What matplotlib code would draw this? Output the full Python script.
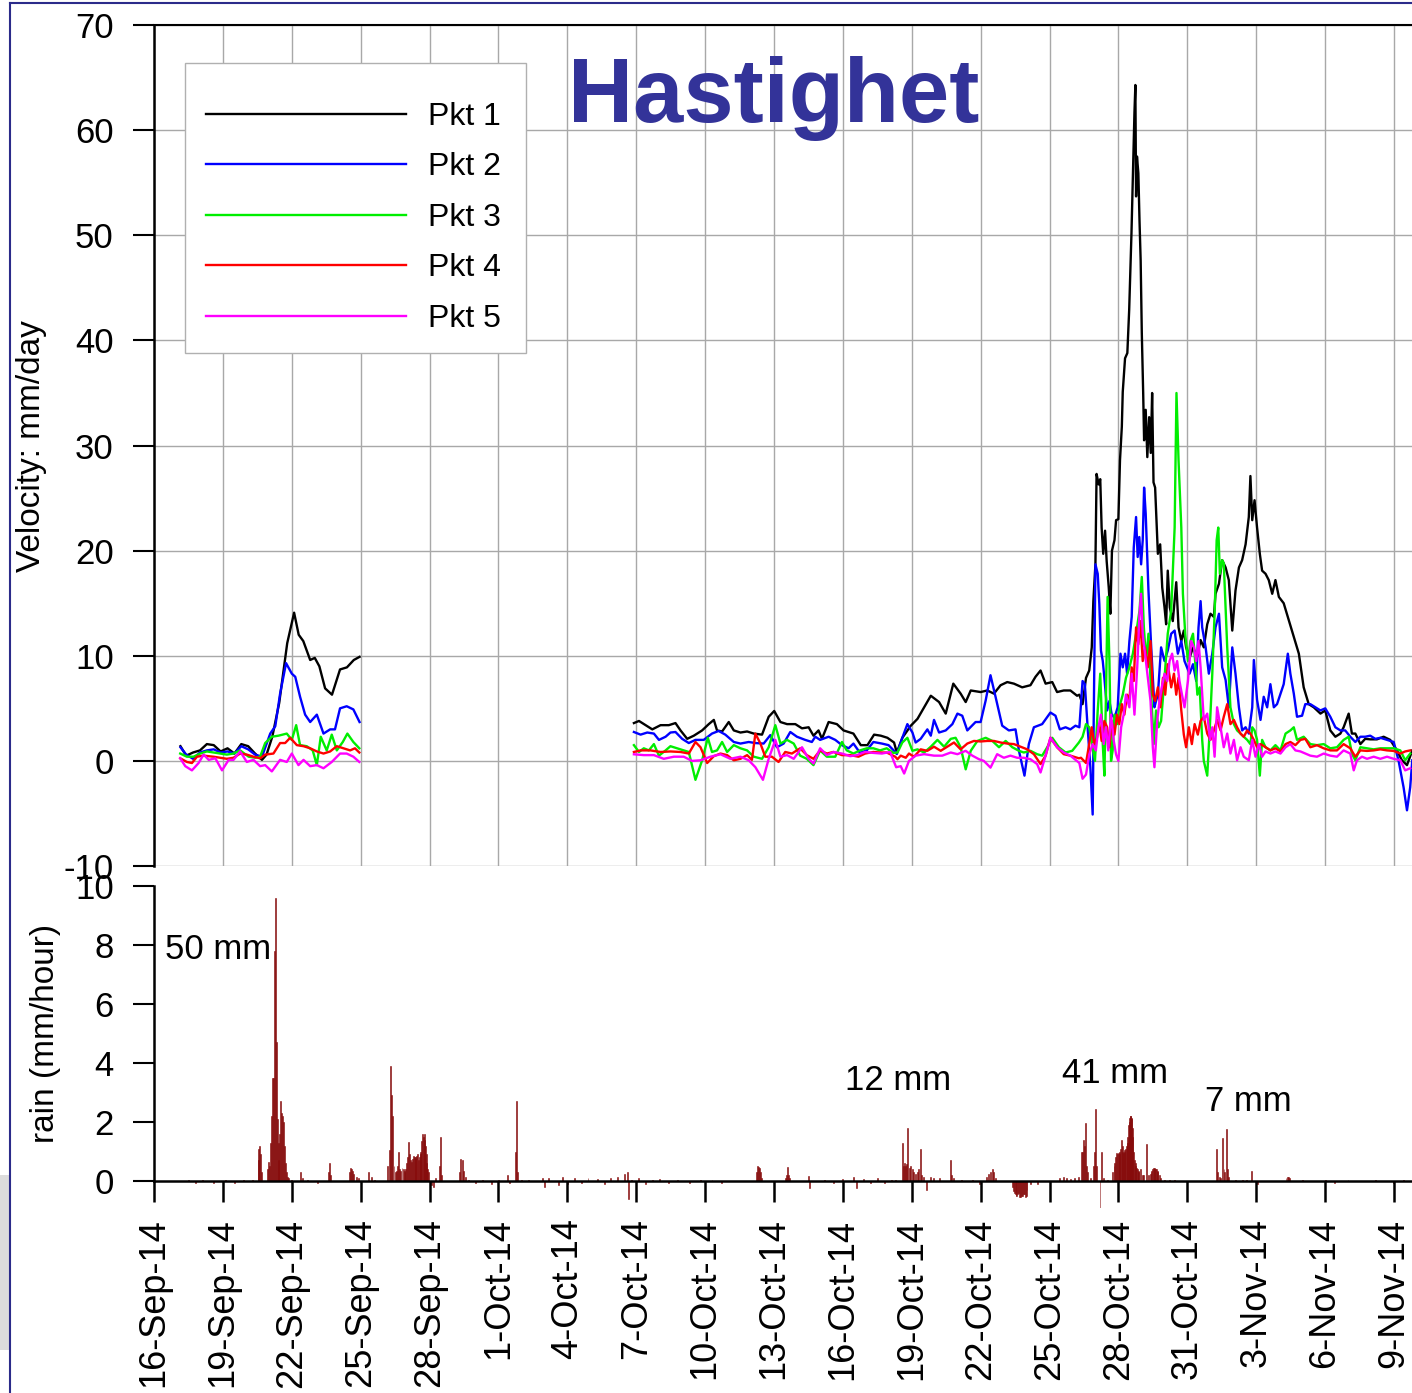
import datetime as dt
import numpy as np
import matplotlib
matplotlib.use('Agg')
import matplotlib.pyplot as plt
from matplotlib.lines import Line2D
from matplotlib.patches import Rectangle
from matplotlib.ticker import FuncFormatter

plt.rcParams['font.family'] = ['Liberation Sans', 'DejaVu Sans']
plt.rcParams['axes.unicode_minus'] = False

# x values are days since 16-Sep-14
start = dt.date(2014, 9, 16)
tick_days = np.arange(0, 55, 3)

series_names = ['Pkt 1', 'Pkt 2', 'Pkt 3', 'Pkt 4', 'Pkt 5']
series_colors = ['black', '#0000ff', '#00ee00', '#ff0000', '#ff00ff']

# --- velocity, first measuring period (17-25 Sep) ---
p1_a = [(1.15, 1.4), (1.4, 0.5), (1.7, 0.8), (2.0, 1.0), (2.3, 1.6), (2.6, 1.5), (2.9, 0.9), (3.2, 1.2),
        (3.5, 0.7), (3.8, 1.6), (4.1, 1.4), (4.4, 0.7), (4.7, 0.1), (4.9, 0.6), (5.15, 2.3), (5.45, 5.5),
        (5.8, 11.2), (6.1, 14.1), (6.3, 12.0), (6.5, 11.4), (6.8, 9.6), (7.0, 9.8), (7.2, 9.0), (7.45, 6.9),
        (7.75, 6.3), (8.1, 8.7), (8.4, 8.9), (8.7, 9.6), (8.95, 9.9)]
p2_a = [(1.15, 1.3), (1.4, 0.6), (1.7, 0.2), (2.0, 0.8), (2.3, 1.0), (2.6, 1.1), (2.9, 0.8), (3.2, 0.9),
        (3.5, 0.7), (3.8, 1.4), (4.1, 1.1), (4.4, 0.6), (4.7, 0.4), (5.06, 2.6), (5.28, 3.3), (5.49, 6.4),
        (5.75, 9.3), (6.0, 8.3), (6.15, 8.0), (6.36, 6.1), (6.58, 4.4), (6.8, 3.7), (7.09, 4.4), (7.38, 2.6),
        (7.67, 3.0), (7.88, 3.0), (8.1, 5.0), (8.39, 5.2), (8.68, 4.9), (8.95, 3.7)]
p3_a = [(1.14, 0.7), (1.43, 0.4), (1.72, 0.4), (2.01, 0.7), (2.3, 0.9), (2.59, 0.8), (2.88, 0.7), (3.17, 0.6),
        (3.46, 0.7), (3.75, 1.0), (4.12, 0.4), (4.41, 0.3), (4.62, 0.4), (4.84, 1.7), (5.13, 2.3), (5.42, 2.4),
        (5.78, 2.6), (6.0, 2.0), (6.19, 3.4), (6.36, 1.5), (6.65, 1.4), (6.91, 1.0), (7.09, -0.4), (7.26, 2.3),
        (7.52, 1.0), (7.74, 2.5), (7.96, 1.0), (8.22, 1.8), (8.42, 2.6), (8.68, 1.8), (8.94, 1.2)]
p4_a = [(1.14, 0.25), (1.43, -0.1), (1.65, -0.2), (1.87, 0.4), (2.16, 0.5), (2.59, 0.4), (2.88, 0.3), (3.17, 0.2),
        (3.46, 0.3), (3.75, 0.7), (4.04, 0.6), (4.33, 0.4), (4.62, 0.25), (4.84, 0.6), (5.2, 0.7), (5.49, 1.7),
        (5.71, 1.7), (5.93, 2.2), (6.22, 1.5), (6.51, 1.4), (6.8, 1.2), (7.09, 0.9), (7.38, 0.7), (7.67, 0.9),
        (7.96, 1.4), (8.25, 1.2), (8.54, 1.0), (8.75, 1.2), (8.94, 0.8)]
p5_a = [(1.14, 0.25), (1.36, -0.5), (1.65, -0.9), (1.94, -0.2), (2.16, 0.6), (2.38, 0.1), (2.67, 0.25), (2.96, -0.9),
        (3.25, 0.1), (3.46, 0.1), (3.75, 0.9), (4.04, -0.1), (4.33, 0.1), (4.62, -0.5), (4.84, -0.4), (5.13, -1.0),
        (5.49, 0.1), (5.78, -0.1), (6.0, 0.7), (6.29, -0.4), (6.51, 0.1), (6.8, -0.5), (7.09, -0.4), (7.38, -0.7),
        (7.74, -0.1), (8.1, 0.7), (8.39, 0.7), (8.68, 0.4), (8.94, -0.1)]

# --- velocity, second measuring period (7 Oct - 10 Nov) ---
p1_b = [(20.9, 3.6), (21.12, 3.8), (21.41, 3.4), (21.7, 3.0), (22.06, 3.4), (22.42, 3.4), (22.71, 3.6), (22.93, 2.9),
        (23.22, 2.1), (23.51, 2.4), (23.87, 2.9), (24.16, 3.5), (24.38, 3.9), (24.52, 2.9), (24.74, 2.8), (25.03, 3.7),
        (25.25, 2.9), (25.54, 2.7), (25.83, 2.8), (26.12, 2.6), (26.48, 2.5), (26.77, 4.2), (27.01, 4.75), (27.28, 3.7),
        (27.57, 3.5), (27.93, 3.5), (28.22, 3.1), (28.51, 3.2), (28.72, 2.4), (28.94, 2.9), (29.09, 2.1), (29.38, 3.7),
        (29.74, 3.5), (30.03, 2.9), (30.46, 2.6), (30.78, 1.5), (31.07, 1.5), (31.36, 2.5), (31.65, 2.4), (31.94, 2.2),
        (32.23, 1.75), (32.35, 0.8), (32.59, 2.2), (32.96, 3.35), (33.25, 4.0), (33.54, 5.1), (33.83, 6.2), (34.19, 5.6),
        (34.48, 4.5), (34.81, 7.35), (35.13, 6.4), (35.35, 5.6), (35.57, 6.7), (36.0, 6.55), (36.29, 6.7), (36.58, 6.4),
        (36.87, 7.2), (37.16, 7.5), (37.45, 7.35), (37.81, 7.0), (38.17, 7.2), (38.39, 8.0), (38.61, 8.6), (38.83, 7.35),
        (39.12, 7.5), (39.33, 6.55), (39.62, 6.7), (39.91, 6.7), (40.2, 6.2), (40.3, 6.3), (40.44, 5.4), (40.59, 7.9),
        (40.73, 8.6), (40.84, 10.8), (40.91, 15.2), (41.0, 18.7), (41.05, 27.3), (41.14, 26.3), (41.21, 26.8),
        (41.27, 22.2), (41.34, 19.7), (41.42, 21.9), (41.49, 19.0), (41.58, 16.5), (41.65, 14.0), (41.72, 20.0),
        (41.83, 21.0), (41.9, 22.9), (42.0, 23.0), (42.07, 28.6), (42.15, 31.8), (42.19, 35.1), (42.29, 38.3),
        (42.39, 38.8), (42.47, 42.9), (42.57, 50.2), (42.65, 57.1), (42.7, 61.7), (42.74, 64.3), (42.77, 53.7),
        (42.81, 57.5), (42.87, 55.9), (42.92, 51.4), (42.97, 47.6), (43.02, 40.7), (43.08, 35.0), (43.12, 30.5),
        (43.19, 33.4), (43.26, 28.9), (43.34, 32.7), (43.41, 29.3), (43.47, 35.0), (43.53, 26.5), (43.6, 26.0),
        (43.72, 19.7), (43.82, 20.6), (43.91, 16.5), (44.01, 14.6), (44.08, 13.0), (44.15, 18.1), (44.24, 14.6),
        (44.37, 13.3), (44.52, 17.0), (44.62, 12.7), (44.74, 11.4), (44.85, 12.4), (44.95, 10.8), (45.1, 9.8),
        (45.25, 10.8), (45.43, 9.9), (45.58, 11.5), (45.72, 10.8), (45.87, 13.0), (46.01, 14.0), (46.16, 13.7),
        (46.23, 15.9), (46.38, 16.85), (46.52, 19.1), (46.67, 18.4), (46.81, 17.2), (46.96, 12.4), (47.1, 16.2),
        (47.25, 18.4), (47.39, 19.1), (47.54, 20.6), (47.68, 23.2), (47.75, 27.1), (47.83, 22.9), (47.93, 24.8),
        (48.04, 22.2), (48.16, 19.7), (48.26, 18.1), (48.41, 17.8), (48.55, 17.2), (48.7, 15.9), (48.84, 17.2),
        (48.99, 15.6), (49.2, 15.0), (49.42, 13.4), (49.64, 11.8), (49.86, 10.2), (50.07, 7.0), (50.29, 5.4),
        (50.51, 5.1), (50.8, 4.5), (51.01, 4.8), (51.23, 2.9), (51.45, 2.3), (51.67, 2.6), (51.81, 3.2), (52.03, 4.5),
        (52.17, 2.6), (52.32, 2.6), (52.54, 1.6), (52.75, 2.1), (52.97, 2.05), (53.26, 2.05), (53.55, 2.3),
        (53.84, 2.0), (54.13, 1.0), (54.35, 0.06), (54.57, -0.4), (54.8, 1.0)]
p2_b = [(20.9, 2.75), (21.19, 2.5), (21.48, 2.7), (21.77, 2.6), (21.99, 2.0), (22.28, 2.3), (22.49, 2.7), (22.71, 2.75),
        (23.0, 2.1), (23.29, 1.7), (23.58, 2.0), (23.94, 2.0), (24.3, 2.6), (24.59, 2.85), (24.88, 2.5), (25.25, 1.8),
        (25.54, 1.65), (25.9, 1.8), (26.19, 1.7), (26.55, 1.65), (26.84, 2.45), (27.13, 1.3), (27.42, 1.65),
        (27.71, 2.75), (28.0, 2.3), (28.36, 2.0), (28.65, 1.8), (28.8, 2.3), (29.01, 2.0), (29.38, 2.3), (29.67, 2.0),
        (29.96, 1.5), (30.25, 1.2), (30.46, 1.65), (30.75, 0.76), (31.04, 1.0), (31.33, 1.8), (31.7, 1.65),
        (31.99, 1.5), (32.28, 0.85), (32.35, 0.65), (32.59, 2.2), (32.81, 3.5), (33.03, 2.7), (33.17, 1.75),
        (33.39, 2.1), (33.68, 3.0), (33.83, 2.4), (33.97, 3.9), (34.19, 2.7), (34.48, 2.9), (34.77, 3.5), (34.99, 4.5),
        (35.2, 4.3), (35.42, 2.9), (35.78, 3.7), (36.0, 3.7), (36.22, 5.75), (36.43, 8.15), (36.65, 6.1), (36.94, 3.35),
        (37.23, 2.9), (37.52, 3.0), (37.67, 0.96), (37.91, -1.4), (38.1, 1.6), (38.32, 3.2), (38.68, 3.5), (39.04, 4.6),
        (39.26, 4.3), (39.45, 3.0), (39.7, 3.2), (39.91, 3.0), (40.13, 3.35), (40.3, 3.2), (40.44, 7.6), (40.54, 7.3),
        (40.66, 3.2), (40.78, -0.6), (40.88, -5.1), (41.0, 18.7), (41.1, 17.8), (41.17, 14.9), (41.24, 10.5),
        (41.32, 9.5), (41.39, 7.9), (41.51, 4.8), (41.61, 5.7), (41.71, 4.4), (41.83, 4.1), (41.97, 5.1), (42.09, 10.2),
        (42.19, 8.9), (42.29, 10.2), (42.38, 8.3), (42.48, 11.4), (42.58, 13.7), (42.67, 20.3), (42.77, 23.2),
        (42.84, 19.4), (42.91, 21.3), (42.99, 18.7), (43.06, 21.0), (43.12, 26.0), (43.19, 23.5), (43.31, 16.2),
        (43.43, 10.8), (43.57, 5.1), (43.64, 5.7), (43.72, 6.3), (43.86, 10.8), (44.01, 9.5), (44.15, 10.5),
        (44.3, 12.1), (44.45, 12.4), (44.59, 10.2), (44.74, 11.4), (44.88, 9.5), (45.1, 8.3), (45.25, 9.2),
        (45.39, 7.6), (45.49, 12.7), (45.58, 15.2), (45.65, 12.7), (45.8, 10.8), (45.94, 8.3), (46.09, 10.2),
        (46.23, 12.7), (46.38, 14.0), (46.52, 8.9), (46.67, 7.7), (46.81, 5.1), (46.96, 10.8), (47.1, 8.3),
        (47.25, 5.1), (47.39, 2.9), (47.54, 3.2), (47.68, 2.6), (47.83, 5.1), (47.9, 9.6), (48.04, 5.8), (48.19, 3.9),
        (48.33, 6.1), (48.48, 5.1), (48.62, 7.3), (48.77, 5.1), (48.91, 5.4), (49.06, 6.4), (49.2, 7.3), (49.38, 10.2),
        (49.49, 8.3), (49.64, 6.4), (49.78, 4.2), (50.0, 4.3), (50.14, 5.4), (50.36, 5.4), (50.58, 5.1), (50.8, 4.8),
        (51.01, 5.0), (51.23, 4.2), (51.45, 3.2), (51.67, 2.9), (51.88, 2.9), (52.1, 2.3), (52.32, 1.8), (52.54, 2.3),
        (52.75, 2.3), (52.97, 2.4), (53.19, 2.1), (53.41, 2.2), (53.7, 2.0), (53.99, 1.8), (54.2, 0.06), (54.42, -2.5),
        (54.57, -4.7), (54.71, -2.5), (54.8, 0.06)]
p3_b = [(20.9, 1.5), (21.12, 0.85), (21.33, 1.2), (21.55, 1.0), (21.77, 1.6), (21.99, 0.5), (22.28, 1.0), (22.49, 1.4),
        (22.78, 1.2), (23.07, 1.0), (23.29, 0.85), (23.58, -1.8), (23.87, 0.06), (24.12, 2.2), (24.3, 0.85),
        (24.52, 1.0), (24.74, 1.8), (24.96, 0.85), (25.25, 1.5), (25.54, 1.2), (25.83, 1.0), (26.12, 0.4), (26.48, 0.2),
        (26.77, 1.3), (27.06, 3.4), (27.28, 1.65), (27.57, 2.0), (27.86, 1.65), (28.14, 0.5), (28.43, 0.2),
        (28.72, -0.4), (29.01, 1.0), (29.3, 0.4), (29.67, 0.4), (29.96, 1.8), (30.17, 1.0), (30.46, 0.7), (30.75, 1.0),
        (31.04, 1.2), (31.33, 1.2), (31.62, 1.0), (31.91, 1.2), (32.2, 0.76), (32.38, 0.8), (32.59, 1.75), (32.81, 2.2),
        (33.03, 0.96), (33.25, 1.1), (33.54, 0.8), (33.83, 1.35), (34.12, 2.0), (34.41, 1.35), (34.7, 2.1),
        (34.91, 2.2), (35.13, 1.3), (35.35, -0.8), (35.57, 0.96), (35.86, 1.9), (36.22, 2.2), (36.51, 1.9), (36.8, 1.3),
        (37.09, 1.9), (37.38, 1.3), (37.67, 0.96), (37.88, 0.8), (38.17, 0.96), (38.46, 0.64), (38.68, 0.5),
        (38.9, 1.3), (39.12, 2.2), (39.41, 1.3), (39.7, 0.8), (39.99, 0.96), (40.28, 1.75), (40.44, 2.3), (40.59, 3.5),
        (40.73, 3.2), (40.88, 1.3), (40.98, 0.0), (41.1, 4.8), (41.21, 8.3), (41.32, 1.6), (41.39, -1.4), (41.46, 6.3),
        (41.53, 15.6), (41.61, 9.5), (41.68, 0.0), (41.75, 1.0), (41.83, 4.4), (41.94, 3.5), (42.04, 5.1), (42.19, 6.3),
        (42.33, 7.9), (42.48, 8.9), (42.63, 10.2), (42.77, 12.1), (42.92, 14.3), (43.02, 17.5), (43.11, 12.7),
        (43.21, 9.5), (43.31, 12.1), (43.43, 6.3), (43.54, 1.6), (43.64, 4.8), (43.75, 3.2), (43.86, 3.8), (44.01, 7.9),
        (44.15, 12.1), (44.3, 14.3), (44.45, 22.2), (44.53, 35.0), (44.62, 28.6), (44.74, 22.2), (44.81, 15.9),
        (44.91, 12.1), (45.03, 9.5), (45.14, 11.4), (45.25, 12.1), (45.32, 10.2), (45.44, 6.3), (45.54, 7.0),
        (45.65, 2.0), (45.72, 0.0), (45.87, -1.4), (45.99, 3.5), (46.09, 8.3), (46.2, 14.6), (46.28, 21.0),
        (46.35, 22.2), (46.42, 17.8), (46.52, 19.1), (46.59, 18.8), (46.67, 14.6), (46.74, 10.8), (46.88, 5.1),
        (47.03, 3.5), (47.17, 2.9), (47.32, 2.6), (47.46, 2.3), (47.61, 2.0), (47.75, 1.6), (47.83, 3.2), (47.93, 2.9),
        (48.04, 2.0), (48.16, -1.4), (48.26, 2.0), (48.41, 1.3), (48.62, 1.0), (48.84, 1.5), (49.06, 1.0), (49.28, 2.6),
        (49.49, 2.9), (49.64, 3.2), (49.78, 2.0), (50.07, 2.3), (50.36, 1.6), (50.65, 1.5), (50.94, 1.6), (51.23, 1.2),
        (51.52, 1.3), (51.81, 2.0), (52.03, 2.3), (52.17, 0.7), (52.32, 0.06), (52.54, 1.3), (52.83, 1.2),
        (53.12, 1.1), (53.41, 1.2), (53.7, 1.2), (53.99, 1.2), (54.28, 1.0), (54.49, 0.06), (54.71, 0.7)]
p4_b = [(20.9, 0.85), (21.19, 1.0), (21.62, 1.0), (22.06, 0.85), (22.49, 0.9), (22.93, 0.85), (23.29, 0.7), (23.58, 1.8),
        (23.8, 1.3), (24.09, -0.2), (24.38, 0.45), (24.67, 0.7), (24.96, 0.55), (25.25, 0.06), (25.54, 0.2),
        (25.83, 0.55), (26.04, 0.1), (26.19, 2.6), (26.41, 1.65), (26.62, 0.4), (26.91, 0.4), (27.2, -0.1),
        (27.49, 0.85), (27.78, 0.7), (28.14, 1.2), (28.43, 0.55), (28.72, 0.2), (29.01, 1.0), (29.3, 0.7), (29.59, 0.85),
        (29.96, 0.55), (30.32, 0.55), (30.68, 0.4), (30.97, 0.7), (31.33, 0.85), (31.62, 0.8), (31.91, 0.8),
        (32.28, 0.4), (32.38, 0.16), (32.52, 0.5), (32.74, 0.3), (32.88, 0.7), (33.1, 0.4), (33.39, 1.1), (33.68, 0.96),
        (33.97, 1.35), (34.26, 0.96), (34.55, 1.35), (34.84, 1.75), (35.13, 1.1), (35.42, 1.65), (35.71, 1.9),
        (36.0, 1.85), (36.29, 1.9), (36.58, 1.9), (36.87, 1.75), (37.16, 1.65), (37.45, 1.6), (37.74, 1.35),
        (38.03, 1.1), (38.32, 0.64), (38.61, -0.3), (38.83, 0.5), (39.04, 2.2), (39.33, 1.3), (39.62, 0.64),
        (39.91, 0.5), (40.28, 0.25), (40.37, 0.3), (40.59, -0.2), (40.73, 1.6), (40.84, 3.2), (40.95, 1.6), (41.07, 2.2),
        (41.17, 3.5), (41.27, 1.9), (41.39, 3.8), (41.51, 3.2), (41.61, 1.3), (41.71, 3.8), (41.83, 2.5), (41.94, 4.4),
        (42.04, 3.5), (42.15, 5.4), (42.26, 4.4), (42.38, 6.3), (42.48, 5.7), (42.58, 8.9), (42.67, 7.6),
        (42.77, 12.7), (42.87, 11.1), (42.96, 13.3), (43.06, 9.5), (43.16, 10.8), (43.28, 8.9), (43.4, 11.4),
        (43.5, 6.3), (43.6, 5.7), (43.72, 7.0), (43.83, 5.1), (43.94, 7.9), (44.04, 6.3), (44.15, 9.2), (44.3, 7.0),
        (44.42, 8.3), (44.52, 6.3), (44.62, 7.9), (44.74, 4.8), (44.85, 2.5), (44.95, 1.3), (45.07, 3.2), (45.2, 1.6),
        (45.32, 3.5), (45.46, 2.5), (45.58, 3.8), (45.72, 4.2), (45.87, 2.6), (46.01, 2.0), (46.16, 2.9), (46.3, 3.9),
        (46.45, 2.9), (46.59, 4.2), (46.74, 5.4), (46.88, 3.5), (47.03, 3.9), (47.17, 3.2), (47.32, 2.6), (47.46, 2.3),
        (47.61, 2.9), (47.75, 2.6), (47.9, 2.0), (48.04, 1.3), (48.19, 1.6), (48.41, 1.3), (48.62, 1.0), (48.84, 1.2),
        (49.06, 0.9), (49.28, 1.6), (49.49, 1.8), (49.71, 1.5), (49.93, 2.0), (50.14, 2.1), (50.36, 1.3), (50.65, 1.5),
        (50.94, 1.2), (51.23, 1.0), (51.52, 1.0), (51.81, 1.6), (52.1, 1.2), (52.32, 0.4), (52.54, 1.0), (52.83, 0.95),
        (53.12, 1.0), (53.41, 1.1), (53.7, 1.0), (53.99, 0.95), (54.28, 0.7), (54.49, 0.9), (54.71, 1.0)]
p5_b = [(20.9, 0.63), (21.33, 0.55), (21.77, 0.55), (22.2, 0.2), (22.64, 0.4), (23.07, 0.4), (23.43, 0.0), (23.8, 0.06),
        (24.23, 0.4), (24.67, 0.63), (25.1, 0.2), (25.54, 0.4), (25.9, 0.06), (26.19, -0.6), (26.52, -1.8), (26.77, 0.2),
        (27.06, 2.0), (27.28, 0.4), (27.57, 0.55), (27.86, 0.2), (28.22, 1.3), (28.51, 0.2), (28.72, -0.25),
        (29.01, 1.2), (29.3, 0.55), (29.59, 0.85), (29.96, 0.7), (30.32, 0.45), (30.61, 0.55), (30.97, 0.85),
        (31.33, 0.76), (31.7, 0.7), (32.06, 0.85), (32.32, -0.6), (32.52, -0.5), (32.67, -1.2), (32.88, 0.0),
        (33.17, 0.5), (33.54, 0.64), (33.97, 0.5), (34.33, 0.5), (34.7, 0.8), (34.99, 0.64), (35.35, 0.96),
        (35.64, 0.5), (35.93, 0.16), (36.14, 0.0), (36.43, -0.64), (36.72, 0.64), (37.01, 0.3), (37.3, 0.5),
        (37.59, 0.3), (37.88, 0.3), (38.17, 0.16), (38.46, -0.3), (38.61, -1.1), (38.83, 0.5), (39.04, 2.2),
        (39.33, 1.3), (39.62, 0.8), (39.91, 0.5), (40.08, 0.2), (40.3, -0.2), (40.44, -1.7), (40.59, -1.3), (40.73, 0.6),
        (40.88, 1.6), (41.02, 1.0), (41.13, 3.2), (41.24, 4.4), (41.36, 1.6), (41.46, 3.2), (41.56, 1.0), (41.68, 4.4),
        (41.8, 1.9), (41.9, 0.6), (42.0, 0.0), (42.12, 3.2), (42.23, 4.4), (42.33, 6.3), (42.48, 5.1), (42.58, 8.3),
        (42.7, 4.4), (42.82, 8.9), (42.92, 14.0), (42.99, 15.9), (43.06, 12.1), (43.16, 10.2), (43.28, 7.9),
        (43.4, 5.7), (43.5, 1.3), (43.57, -0.6), (43.69, 3.8), (43.79, 5.7), (43.89, 7.0), (44.01, 8.3), (44.13, 7.6),
        (44.23, 9.5), (44.34, 10.2), (44.45, 8.6), (44.56, 9.5), (44.66, 7.6), (44.77, 6.3), (44.88, 5.1), (45.03, 7.6),
        (45.17, 11.4), (45.29, 10.8), (45.39, 9.5), (45.49, 11.4), (45.58, 8.9), (45.72, 3.9), (45.87, 4.5),
        (45.99, 2.0), (46.09, 3.2), (46.19, 0.4), (46.3, 5.1), (46.45, 3.2), (46.59, 1.3), (46.74, 2.6), (46.88, 0.7),
        (47.03, 2.0), (47.17, 0.06), (47.32, 1.3), (47.46, 0.4), (47.68, 0.06), (47.83, 2.0), (47.97, 0.4),
        (48.12, 1.6), (48.26, 0.4), (48.41, 0.9), (48.62, 0.7), (48.84, 0.9), (49.06, 0.7), (49.28, 1.3), (49.49, 1.6),
        (49.71, 1.0), (49.93, 0.9), (50.14, 0.7), (50.36, 0.5), (50.65, 0.4), (50.94, 0.7), (51.23, 0.5), (51.52, 0.4),
        (51.81, 1.0), (52.1, 0.7), (52.25, -0.9), (52.39, 0.06), (52.61, 0.4), (52.83, 0.2), (53.12, 0.4), (53.41, 0.2),
        (53.7, 0.4), (53.99, 0.2), (54.28, 0.06), (54.49, -0.9), (54.71, -0.7)]

# --- hourly rain (mm/hour), day since 16-Sep and value ---
rain = [(1.5, 0.05), (1.8, -0.05), (2.1, 0.04), (2.6, -0.08), (3.1, 0.05), (3.5, -0.06), (3.9, 0.04), (4.3, 0.05),
        (4.53, 0.7), (4.57, 1.1), (4.61, 1.2), (4.65, 0.9), (4.7, 0.3), (4.95, 0.4), (5.0, 0.65), (5.04, 0.5),
        (5.08, 1.3), (5.12, 2.2), (5.16, 3.5), (5.2, 3.5), (5.24, 7.8), (5.28, 9.6), (5.32, 4.7), (5.36, 2.1),
        (5.4, 1.3), (5.44, 0.7), (5.48, 1.6), (5.52, 2.7), (5.56, 2.3), (5.6, 2.2), (5.64, 2.0), (5.68, 1.2),
        (5.72, 0.6), (5.76, 0.3), (5.8, 0.15), (5.85, 0.1), (6.0, 0.05), (6.36, 0.3), (6.45, 0.1), (6.7, 0.05),
        (7.1, -0.06), (7.6, 0.3), (7.64, 0.6), (7.68, 0.2), (8.5, 0.3), (8.55, 0.45), (8.6, 0.4), (8.65, 0.35),
        (8.7, 0.25), (8.8, 0.15), (8.9, 0.1), (9.32, 0.3), (9.48, 0.15), (9.6, 0.05),
        (10.16, 0.5), (10.25, 1.05), (10.31, 3.9), (10.35, 2.9), (10.4, 2.2), (10.45, 0.5), (10.5, 0.3),
        (10.57, 0.35), (10.6, 0.5), (10.64, 1.0), (10.7, 0.4), (10.74, 0.35), (10.8, 0.45), (10.86, 0.4),
        (10.9, 0.35), (10.93, 0.3), (10.96, 0.4), (11.0, 0.6), (11.04, 0.8), (11.08, 1.33), (11.12, 0.9),
        (11.16, 0.7), (11.22, 0.65), (11.26, 0.75), (11.29, 0.85), (11.33, 0.8), (11.37, 0.75), (11.4, 0.8),
        (11.44, 0.85), (11.48, 0.9), (11.51, 0.7), (11.55, 0.8), (11.59, 0.9), (11.62, 1.0), (11.66, 1.35),
        (11.7, 1.6), (11.73, 1.5), (11.76, 1.6), (11.79, 1.4), (11.82, 1.2), (11.85, 0.9), (11.88, 0.6),
        (11.91, 0.4), (11.95, 0.3), (12.09, -0.15), (12.17, -0.2), (12.24, 0.1), (12.42, 0.5), (12.48, 1.5),
        (12.52, 0.2), (13.3, 0.3), (13.36, 0.75), (13.42, 0.7), (13.48, 0.35), (13.55, 0.15), (13.7, 0.05),
        (14.0, -0.05), (14.3, 0.05), (14.7, -0.1), (15.0, 0.05), (15.4, 0.2), (15.5, -0.05), (15.76, 1.0),
        (15.8, 2.7), (15.84, 0.3), (16.0, 0.05), (16.3, 0.05), (16.9, 0.1), (17.0, -0.2), (17.2, 0.1),
        (17.6, -0.15), (17.8, 0.12), (18.0, -0.1), (18.3, 0.1), (18.6, -0.08), (18.9, 0.1), (19.3, 0.08),
        (19.6, -0.1), (19.9, 0.1), (20.2, 0.15), (20.5, 0.25), (20.62, 0.3), (20.66, -0.6), (20.8, 0.05),
        (21.1, 0.1), (21.4, -0.1), (21.7, 0.05), (22.0, 0.08), (22.4, -0.05), (22.8, 0.05), (23.3, -0.08),
        (23.8, 0.05), (24.3, 0.05), (24.7, -0.05), (26.25, 0.3), (26.29, 0.5), (26.33, 0.48), (26.37, 0.45),
        (26.41, 0.3), (26.45, 0.1), (27.5, 0.1), (27.55, 0.2), (27.58, 0.49), (27.62, 0.2), (27.66, 0.1),
        (28.5, 0.18), (28.55, -0.25), (29.2, 0.05), (29.6, -0.05), (30.0, 0.06), (30.46, 0.12), (30.6, -0.25),
        (30.9, 0.08), (31.2, -0.08), (31.5, 0.1), (31.8, -0.05), (32.1, 0.05), (32.3, 0.05),
        (32.6, 1.3), (32.64, 0.5), (32.68, 0.6), (32.72, 0.5), (32.76, 0.57), (32.82, 1.8), (32.89, 0.45),
        (32.95, 0.5), (33.02, 0.4), (33.08, 0.3), (33.16, 0.25), (33.24, 0.3), (33.3, 0.4), (33.37, 1.1),
        (33.43, 0.2), (33.53, 0.15), (33.64, -0.3), (33.8, 0.15), (33.96, 0.1), (34.19, 0.1), (34.67, 0.7),
        (34.72, 0.2), (34.83, 0.1), (35.15, 0.05), (35.63, 0.05), (35.95, -0.1), (36.26, 0.15), (36.34, 0.25),
        (36.42, 0.3), (36.5, 0.4), (36.58, 0.3), (36.66, 0.1), (37.38, -0.2), (37.42, -0.35), (37.46, -0.4),
        (37.5, -0.45), (37.54, -0.5), (37.58, -0.5), (37.62, -0.45), (37.66, -0.4), (37.7, -0.55), (37.74, -0.55),
        (37.78, -0.5), (37.82, -0.5), (37.86, -0.45), (37.9, -0.45), (37.94, -0.55), (37.98, -0.5), (38.02, -0.3),
        (38.18, -0.1), (38.49, -0.1), (39.45, 0.1), (39.6, 0.12), (39.75, 0.1), (39.9, 0.08), (40.1, 0.1),
        (40.25, 0.15), (40.4, 1.0), (40.45, 1.0), (40.48, 1.4), (40.53, 1.2), (40.56, 1.95), (40.6, 0.5),
        (40.66, 0.3), (40.8, 0.1), (40.91, 0.5), (40.96, 1.0), (41.01, 2.45), (41.06, 0.5), (41.2, -0.9),
        (41.28, 0.97), (41.36, 0.1), (41.52, 0.05), (41.76, 0.3), (41.81, 0.5), (41.85, 0.6), (41.87, 0.8),
        (41.93, 0.95), (41.96, 0.9), (42.0, 0.95), (42.03, 0.9), (42.06, 1.0), (42.09, 1.1), (42.12, 1.4),
        (42.16, 1.2), (42.19, 1.0), (42.22, 0.95), (42.25, 1.0), (42.28, 1.05), (42.32, 1.1), (42.35, 1.2),
        (42.38, 1.3), (42.41, 1.5), (42.44, 1.9), (42.47, 2.0), (42.49, 2.15), (42.52, 2.2), (42.54, 2.2),
        (42.57, 2.15), (42.59, 2.1), (42.61, 1.8), (42.63, 1.5), (42.66, 1.0), (42.7, 0.7), (42.73, 0.6),
        (42.76, 0.5), (42.79, 0.45), (42.82, 0.4), (42.86, 0.35), (42.89, 0.3), (42.95, 0.4), (43.03, 0.2),
        (43.11, 0.2), (43.22, 1.25), (43.3, 0.2), (43.38, 0.25), (43.42, 0.3), (43.46, 0.35), (43.5, 0.4),
        (43.53, 0.45), (43.56, 0.4), (43.59, 0.45), (43.62, 0.4), (43.65, 0.4), (43.69, 0.35), (43.72, 0.3),
        (43.77, 0.2), (43.83, 0.1), (43.99, 0.05), (44.23, 0.05), (44.46, 0.05), (46.26, 1.1), (46.33, 0.3),
        (46.4, 0.15), (46.45, 0.1), (46.54, 1.45), (46.6, 0.4), (46.64, 0.3), (46.69, 1.75), (46.74, 0.4),
        (46.81, 0.15), (47.09, 0.05), (47.41, 0.05), (47.57, 0.05), (47.81, 0.35), (48.05, -0.1), (49.3, 0.1),
        (49.35, 0.15), (49.4, 0.15), (49.45, 0.1), (50.0, 0.05), (51.0, 0.05), (51.4, -0.05), (52.0, 0.05),
        (53.2, 0.05), (54.0, -0.05), (54.4, 0.05)]

rain_notes = [(0.48, 7.83, '50 mm'), (30.1, 3.39, '12 mm'), (39.55, 3.66, '41 mm'), (45.77, 2.71, '7 mm')]


def date_label(x, pos):
    d = start + dt.timedelta(days=int(round(x)))
    return f"{d.day}-{d.strftime('%b-%y')}"


fig = plt.figure(figsize=(14.12, 13.93), dpi=100)
ax1 = fig.add_axes([0.1091, 0.3783, 0.8976, 0.6037])
ax2 = fig.add_axes([0.1091, 0.1331, 0.8976, 0.2309])

# velocity panel
first = [p1_a, p2_a, p3_a, p4_a, p5_a]
second = [p1_b, p2_b, p3_b, p4_b, p5_b]
for name, color, seg_a, seg_b in zip(series_names, series_colors, first, second):
    xa, ya = zip(*seg_a)
    xb, yb = zip(*seg_b)
    ax1.plot(xa, ya, color=color, lw=1.7)
    ax1.plot(xb, yb, color=color, lw=1.7, label=name)

ax1.set_xlim(0, 55.2)
ax1.set_ylim(-10, 70)
ax1.set_yticks(np.arange(-10, 71, 10))
ax1.set_xticks(tick_days)
ax1.grid(True, color='#a8a8a8', lw=1.0)
ax1.tick_params(axis='x', length=0, labelbottom=False)
ax1.tick_params(axis='y', length=15, width=1.5, pad=14, labelsize=25)
ax1.spines['bottom'].set_visible(False)
ax1.spines['right'].set_visible(False)
ax1.spines['left'].set_linewidth(1.8)
ax1.spines['top'].set_linewidth(1.5)

# legend entries without frame, frame drawn as its own box
leg = ax1.legend(loc='upper left', bbox_to_anchor=(0.041, 0.9085), borderaxespad=0, borderpad=0,
                 fontsize=23, handlelength=6.25, handletextpad=0.69, labelspacing=0.64, frameon=False)
ax1.add_patch(Rectangle((0.02446, 0.6100), 0.2690, 0.3448, transform=ax1.transAxes,
                        facecolor='white', edgecolor='#b0b0b0', lw=1.0, zorder=4))
leg.set_zorder(5)

# rain panel
rt, rv = zip(*rain)
ax2.bar(rt, rv, width=1 / 24, color='#7a0000', edgecolor='#8b1010', lw=0.4)
ax2.set_xlim(0, 55.2)
ax2.set_ylim(-0.9, 10)
ax2.set_yticks(np.arange(0, 11, 2))
ax2.set_xticks(tick_days)
ax2.xaxis.set_major_formatter(FuncFormatter(date_label))
ax2.spines['bottom'].set_position(('data', 0))
ax2.spines['left'].set_bounds(0, 10)
ax2.spines['left'].set_linewidth(1.8)
ax2.spines['bottom'].set_linewidth(1.8)
ax2.spines['top'].set_visible(False)
ax2.spines['right'].set_visible(False)
ax2.tick_params(axis='y', length=15, width=1.5, pad=14, labelsize=25)
ax2.tick_params(axis='x', length=15, width=1.8, pad=12, labelsize=26, labelrotation=90)
for x, y, s in rain_notes:
    ax2.text(x, y, s, fontsize=25, ha='left', va='center')

fig.text(0.548, 0.9124, 'Hastighet', fontsize=65, fontweight='bold', color='#333399',
         ha='center', va='baseline')
fig.text(0.0225, 0.6798, 'Velocity: mm/day', fontsize=24, rotation=90, ha='center', va='center')
fig.text(0.0319, 0.2584, 'rain (mm/hour)', fontsize=24, rotation=90, ha='center', va='center')

# thin frame around the slide and the grey strip at lower left
fig.add_artist(Rectangle((0, 1 - 1350 / 1393), 9 / 1412, 175 / 1393, transform=fig.transFigure,
                         facecolor='#dcdcdc', edgecolor='none'))
fig.add_artist(Line2D([10 / 1412, 10 / 1412], [0, 1 - 3 / 1393], color='#2b2b8a', lw=1.5))
fig.add_artist(Line2D([10 / 1412, 1], [1 - 3 / 1393, 1 - 3 / 1393], color='#2b2b8a', lw=1.5))

fig.savefig('out.png', dpi=100)
